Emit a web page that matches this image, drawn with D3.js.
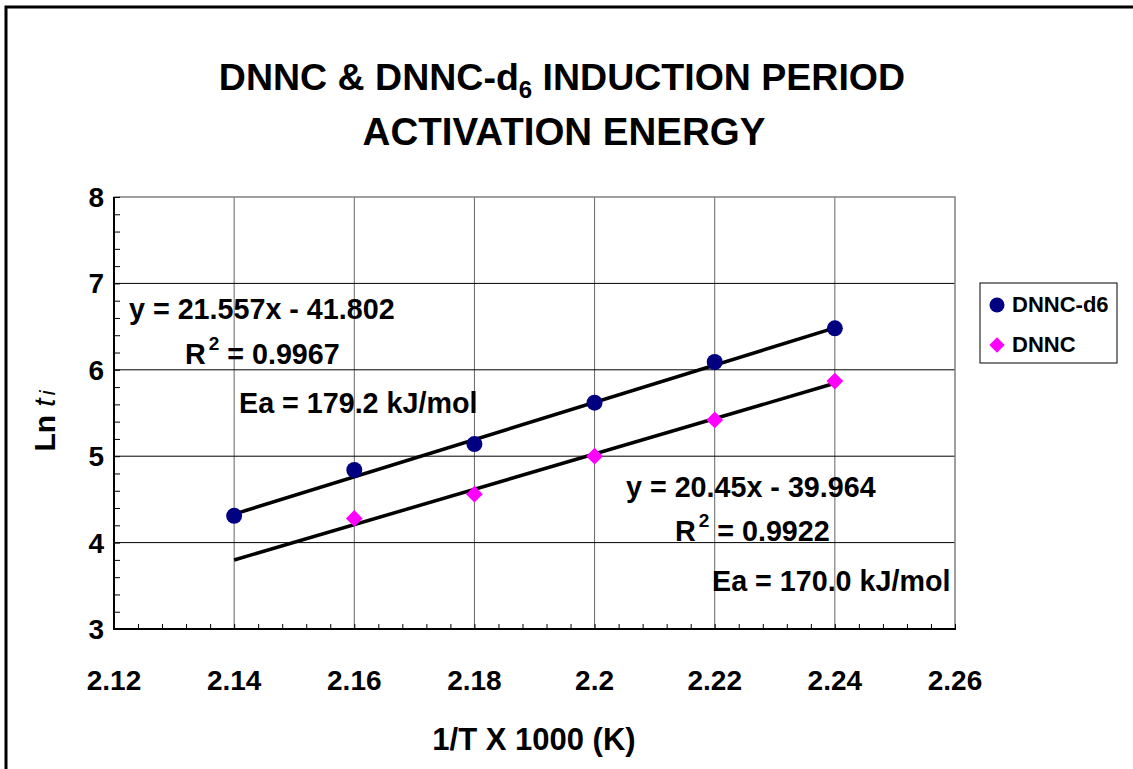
<!DOCTYPE html>
<html>
<head>
<meta charset="utf-8">
<script src="https://cdn.jsdelivr.net/npm/d3@7"></script>
<style>
    body { margin: 0; background: #fff; }
    text { font-family: "Liberation Sans", Arial, sans-serif; font-weight: bold; fill: #000; }
</style>
</head>
<body>
<div id="chart"></div>
<script>
// data
const xTicks = [2.12, 2.14, 2.16, 2.18, 2.2, 2.22, 2.24, 2.26];
const yTicks = [3, 4, 5, 6, 7, 8];
const xD6 = [2.14, 2.16, 2.18, 2.2, 2.22, 2.24];
const yD6 = [4.31, 4.84, 5.14, 5.62, 6.09, 6.48];
const xDnnc = [2.16, 2.18, 2.2, 2.22, 2.24];
const yDnnc = [4.28, 4.56, 5.00, 5.42, 5.87];
const seriesNames = ["DNNC-d6", "DNNC"];
// trendlines (slope, intercept) as printed on the chart
const fitD6 = [21.557, -41.802];
const fitDnnc = [20.45, -39.964];
const fitRange = [2.14, 2.24];
const fitLabels = [
    ["y = 21.557x - 41.802", "0.9967", "Ea = 179.2 kJ/mol"],
    ["y = 20.45x - 39.964", "0.9922", "Ea = 170.0 kJ/mol"]
];

const width = 1133, height = 769;
const plot = { left: 114, right: 955, top: 197, bottom: 629 };

const svg = d3.select("#chart").append("svg")
    .attr("width", width)
    .attr("height", height);

// outer chart border (right/bottom fall outside the picture)
svg.append("rect")
    .attr("x", 6).attr("y", 7)
    .attr("width", width + 20).attr("height", height + 20)
    .attr("fill", "none")
    .attr("stroke", "#000")
    .attr("stroke-width", 3);

const x = d3.scaleLinear().domain([2.12, 2.26]).range([plot.left, plot.right]);
const y = d3.scaleLinear().domain([3, 8]).range([plot.bottom, plot.top]);

// title
const title = svg.append("text")
    .attr("text-anchor", "middle")
    .attr("font-size", 37.5);
title.append("tspan").attr("x", 562).attr("y", 90).text("DNNC & DNNC-d");
title.append("tspan").attr("font-size", 24).attr("dy", 8).text("6");
title.append("tspan").attr("dy", -8).text(" INDUCTION PERIOD");
svg.append("text")
    .attr("x", 564).attr("y", 145)
    .attr("text-anchor", "middle")
    .attr("font-size", 38.5)
    .text("ACTIVATION ENERGY");

// gridlines
svg.append("g")
    .selectAll("line")
    .data(xTicks.slice(1, -1))
    .join("line")
    .attr("x1", d => x(d)).attr("x2", d => x(d))
    .attr("y1", plot.top).attr("y2", plot.bottom)
    .attr("stroke", "#666")
    .attr("stroke-width", 1);

svg.append("g")
    .selectAll("line")
    .data(yTicks.slice(1, -1))
    .join("line")
    .attr("x1", plot.left).attr("x2", plot.right)
    .attr("y1", d => y(d)).attr("y2", d => y(d))
    .attr("stroke", "#000")
    .attr("stroke-width", 1);

// plot area border
svg.append("rect")
    .attr("x", plot.left).attr("y", plot.top)
    .attr("width", plot.right - plot.left).attr("height", plot.bottom - plot.top)
    .attr("fill", "none")
    .attr("stroke", "#808080")
    .attr("stroke-width", 1.5);

// axes with minor inside ticks
const yMinor = d3.range(3, 8.001, 0.2);
svg.append("g")
    .attr("transform", `translate(${plot.left},0)`)
    .call(d3.axisRight(y).tickValues(yMinor).tickSize(6).tickFormat(""))
    .call(g => g.select(".domain").remove())
    .selectAll("line").attr("stroke", "#000");

const xMinor = d3.range(2.12, 2.2601, 0.004);
svg.append("g")
    .attr("transform", `translate(0,${plot.bottom})`)
    .call(d3.axisTop(x).tickValues(xMinor).tickSize(5).tickFormat(""))
    .call(g => g.select(".domain").remove())
    .selectAll("line").attr("stroke", "#000");

svg.append("line")
    .attr("x1", plot.left).attr("x2", plot.left)
    .attr("y1", plot.top).attr("y2", plot.bottom + 1)
    .attr("stroke", "#000").attr("stroke-width", 2);
svg.append("line")
    .attr("x1", plot.left).attr("x2", plot.right + 1)
    .attr("y1", plot.bottom).attr("y2", plot.bottom)
    .attr("stroke", "#000").attr("stroke-width", 2);

// tick labels
svg.append("g")
    .selectAll("text")
    .data(yTicks)
    .join("text")
    .attr("x", 104)
    .attr("y", d => y(d) + 10)
    .attr("text-anchor", "end")
    .attr("font-size", 28)
    .text(d => d);

svg.append("g")
    .selectAll("text")
    .data(xTicks)
    .join("text")
    .attr("x", d => x(d))
    .attr("y", 690)
    .attr("text-anchor", "middle")
    .attr("font-size", 28)
    .text(d => d);

// axis titles
svg.append("text")
    .attr("x", 534).attr("y", 750)
    .attr("text-anchor", "middle")
    .attr("font-size", 31)
    .text("1/T X 1000 (K)");

const yTitle = svg.append("text")
    .attr("transform", "translate(55,421) rotate(-90)")
    .attr("text-anchor", "middle")
    .attr("font-size", 30);
yTitle.append("tspan").text("Ln ");
yTitle.append("tspan").attr("font-style", "italic").attr("font-weight", "normal").text("t");
yTitle.append("tspan").attr("font-style", "italic").attr("font-weight", "normal")
    .attr("font-size", 22).attr("dx", 3).text("i");

// trendlines
const fitLine = d3.line().x(d => x(d[0])).y(d => y(d[1]));
[fitD6, fitDnnc].forEach(f => {
    svg.append("path")
        .datum(fitRange.map(v => [v, f[0] * v + f[1]]))
        .attr("d", fitLine)
        .attr("fill", "none")
        .attr("stroke", "#000")
        .attr("stroke-width", 3.5);
});

// markers
svg.append("g")
    .selectAll("circle")
    .data(d3.zip(xD6, yD6))
    .join("circle")
    .attr("cx", d => x(d[0]))
    .attr("cy", d => y(d[1]))
    .attr("r", 8)
    .attr("fill", "#000080");

const diamond = d3.symbol().type(d3.symbolDiamond2).size(180);
svg.append("g")
    .selectAll("path")
    .data(d3.zip(xDnnc, yDnnc))
    .join("path")
    .attr("transform", d => `translate(${x(d[0])},${y(d[1])})`)
    .attr("d", diamond)
    .attr("fill", "#FF00FF");

// fit annotations
const annPos = [
    [[129, 319], [185, 364], [239, 413]],
    [[626, 497], [675, 541], [712, 591]]
];
fitLabels.forEach((lab, i) => {
    const p = annPos[i];
    svg.append("text").attr("x", p[0][0]).attr("y", p[0][1]).attr("font-size", 28.7).text(lab[0]);
    const r = svg.append("text").attr("x", p[1][0]).attr("y", p[1][1]).attr("font-size", 28.7);
    r.append("tspan").text("R");
    r.append("tspan").attr("font-size", 19).attr("dx", 3).attr("dy", -14).text("2");
    r.append("tspan").attr("dy", 14).text(" = " + lab[1]);
    svg.append("text").attr("x", p[2][0]).attr("y", p[2][1]).attr("font-size", 28.7).text(lab[2]);
});

// legend
const legend = svg.append("g");
legend.append("rect")
    .attr("x", 980).attr("y", 283)
    .attr("width", 137).attr("height", 80)
    .attr("fill", "#fff")
    .attr("stroke", "#000")
    .attr("stroke-width", 1);
legend.append("circle")
    .attr("cx", 997).attr("cy", 305).attr("r", 7.5)
    .attr("fill", "#000080");
legend.append("path")
    .attr("transform", "translate(997,345)")
    .attr("d", d3.symbol().type(d3.symbolDiamond2).size(150))
    .attr("fill", "#FF00FF");
legend.selectAll("text.lg")
    .data(seriesNames)
    .join("text")
    .attr("class", "lg")
    .attr("x", 1012)
    .attr("y", (d, i) => 312 + i * 40)
    .attr("font-size", 22)
    .text(d => d);
</script>
</body>
</html>
